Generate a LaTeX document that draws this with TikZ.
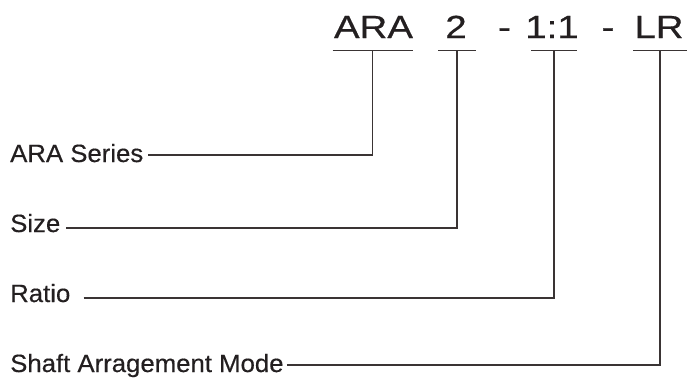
\documentclass[tikz,border=0pt]{standalone}
\usepackage{fontspec}
\usepackage{xcolor}
\usepackage{tikz}
\setmainfont[FakeStretch=1.03, FakeBold=0.4]{Liberation Sans}
\newfontfamily\codefont[FakeStretch=1.2, FakeBold=0.5]{Liberation Sans}
\definecolor{ink}{HTML}{231F20}
\definecolor{wire}{HTML}{3A3434}

\begin{document}
\begin{tikzpicture}[
	x=1pt, y=-1pt,
	codepart/.style={inner sep=0pt, anchor=base, text=ink, font=\codefont\fontsize{32}{32}\selectfont},
	fieldname/.style={inner sep=0pt, anchor=base west, text=ink, font=\fontsize{25}{25}\selectfont},
	underline/.style={draw=wire, line width=1.3pt},
	lead/.style={draw=wire, line width=1.3pt}
	]
	\useasboundingbox (0,0) rectangle (690,378);
	
	% Define nodes
	\node[codepart] (ara) at (373.5,38) {ARA};
	\node[codepart] (size) at (456,38) {2};
	\node[codepart] (dashA) at (504.5,38) {-};
	\node[codepart] (ratio) at (552,38) {1:1};
	\node[codepart] (dashB) at (608,38) {-};
	\node[codepart] (mode) at (659,38) {LR};
	
	\coordinate (araU) at (372.5,50.5);
	\coordinate (sizeU) at (457,50.5);
	\coordinate (ratioU) at (554,50.5);
	\coordinate (modeU) at (660,50.5);
	
	\node[fieldname] (seriesLbl) at (10,162) {ARA Series};
	\node[fieldname] (sizeLbl) at (10,232) {Size};
	\node[fieldname] (ratioLbl) at (10,302) {Ratio};
	\node[fieldname] (modeLbl) at (10,372) {Shaft Arragement Mode};
	
	% Draw underlines
	\path [underline] ([xshift=-40pt]araU) -- ([xshift=40pt]araU);
	\path [underline] ([xshift=-19pt]sizeU) -- ([xshift=19pt]sizeU);
	\path [underline] ([xshift=-23pt]ratioU) -- ([xshift=23pt]ratioU);
	\path [underline] ([xshift=-27pt]modeU) -- ([xshift=27pt]modeU);
	
	% Draw edges
	\path [lead] ([xshift=5pt,yshift=7pt]seriesLbl.base east) -| (araU);
	\path [lead] ([xshift=6pt,yshift=4pt]sizeLbl.base east) -| (sizeU);
	\path [lead] ([xshift=13pt,yshift=4pt]ratioLbl.base east) -| (ratioU);
	\path [lead] ([xshift=3pt,yshift=7pt]modeLbl.base east) -| (modeU);
	
\end{tikzpicture}
\end{document}
